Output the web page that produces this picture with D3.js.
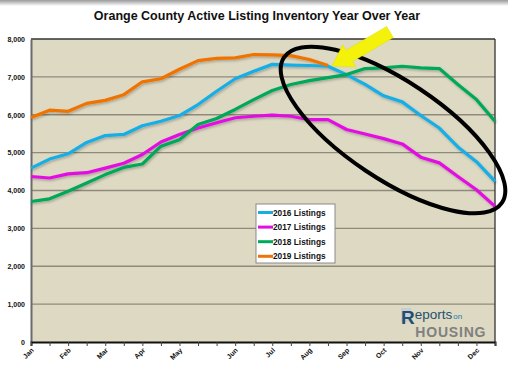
<!DOCTYPE html>
<html>
<head>
<meta charset="utf-8">
<script src="https://cdn.jsdelivr.net/npm/d3@7"></script>
<style>
  body { margin: 0; background: #fff; }
  svg { display: block; font-family: 'Liberation Sans', Arial, sans-serif; }
</style>
</head>
<body>
<svg id="chart" width="508" height="384"></svg>
<script>
// half-month categories, only month starts are labelled
let categories = ['Jan', '', 'Feb', '', 'Mar', '', 'Apr', '', 'May', '', '', 'Jun', '', 'Jul', '',
  'Aug', '', 'Sep', '', 'Oct', '', 'Nov', '', '', 'Dec', '']

let listings2016 = [4590, 4830, 4970, 5270, 5450, 5480, 5710, 5830, 5980, 6270, 6620, 6950, 7150,
  7330, 7310, 7300, 7280, 7060, 6800, 6500, 6340, 5980, 5650, 5150, 4760, 4240]
let listings2017 = [4370, 4330, 4440, 4470, 4590, 4720, 4950, 5280, 5480, 5650, 5790, 5920, 5960,
  5990, 5960, 5870, 5870, 5610, 5490, 5370, 5230, 4880, 4730, 4370, 4020, 3580]
let listings2018 = [3710, 3780, 3980, 4200, 4420, 4610, 4700, 5170, 5340, 5740, 5900, 6140, 6400,
  6640, 6800, 6900, 6980, 7060, 7220, 7240, 7280, 7240, 7220, 6800, 6400, 5830]
let listings2019 = [5930, 6120, 6090, 6300, 6380, 6530, 6870, 6950, 7200, 7430, 7490, 7500, 7590,
  7580, 7560, 7460, 7300]

let seriesNames = ['2016 Listings', '2017 Listings', '2018 Listings', '2019 Listings']
let yTicks = [0, 1000, 2000, 3000, 4000, 5000, 6000, 7000, 8000]

let colors = {
  '2016 Listings': '#17aee6',
  '2017 Listings': '#e30ee3',
  '2018 Listings': '#00a85a',
  '2019 Listings': '#f07306'
}
let series = [
  {name: seriesNames[0], values: listings2016},
  {name: seriesNames[1], values: listings2017},
  {name: seriesNames[2], values: listings2018},
  {name: seriesNames[3], values: listings2019}
]

let svg = d3.select('#chart')
let box = {left: 31, right: 495, top: 39, bottom: 342}

let defs = svg.append('defs')
let grad = defs.append('linearGradient')
  .attr('id', 'topShade')
  .attr('x1', 0).attr('y1', 0).attr('x2', 0).attr('y2', 1)
grad.append('stop').attr('offset', '0%').attr('stop-color', '#9a9a9a')
grad.append('stop').attr('offset', '100%').attr('stop-color', '#ffffff')
let shadow = defs.append('filter').attr('id', 'lineShadow')
  .attr('x', '-5%').attr('y', '-5%').attr('width', '110%').attr('height', '120%')
shadow.append('feDropShadow')
  .attr('dx', 1).attr('dy', 1.5).attr('stdDeviation', 0.8)
  .attr('flood-color', '#000').attr('flood-opacity', 0.25)

svg.append('rect')
  .attr('x', 0).attr('y', 0)
  .attr('width', 508).attr('height', 6)
  .attr('fill', 'url(#topShade)')

svg.append('text')
  .text('Orange County Active Listing Inventory Year Over Year')
  .attr('x', 257)
  .attr('y', 20)
  .attr('text-anchor', 'middle')
  .style('font-weight', 'bold')
  .style('font-size', '12.5px')
  .attr('fill', '#111')

let x = d3.scaleLinear().domain([0, categories.length - 1]).range([box.left, box.right])
let y = d3.scaleLinear().domain([0, 8000]).range([box.bottom, box.top])

svg.append('rect')
  .attr('x', box.left)
  .attr('y', box.top)
  .attr('width', box.right - box.left)
  .attr('height', box.bottom - box.top)
  .attr('fill', '#ddd9c3')

// gridlines
svg.append('g')
  .selectAll('line')
  .data(yTicks.filter(function (d) { return d > 0 && d < 8000 }))
  .enter()
  .append('line')
  .attr('x1', box.left)
  .attr('x2', box.right)
  .attr('y1', function (d) { return y(d) })
  .attr('y2', function (d) { return y(d) })
  .attr('stroke', '#8f8b7c')
  .attr('stroke-width', 1.3)

// frame
svg.append('line')
  .attr('x1', box.left).attr('x2', box.right)
  .attr('y1', box.top).attr('y2', box.top)
  .attr('stroke', '#333').attr('stroke-width', 1.3)
svg.append('line')
  .attr('x1', box.right).attr('x2', box.right)
  .attr('y1', box.top).attr('y2', box.bottom)
  .attr('stroke', '#333').attr('stroke-width', 1.3)

// y axis
let yAxis = svg.append('g')
  .attr('transform', 'translate(' + box.left + ',0)')
  .call(d3.axisLeft(y).tickValues(yTicks).tickSize(0).tickPadding(6).tickFormat(d3.format(',')))
yAxis.select('.domain').attr('stroke', '#6b6b6b').attr('stroke-width', 2)
yAxis.selectAll('text')
  .style('font-size', '7px')
  .style('font-weight', 'bold')
  .style('font-family', "'Liberation Sans', Arial, sans-serif")
  .attr('fill', '#111')

// x axis
let xAxis = svg.append('g')
  .attr('transform', 'translate(0,' + box.bottom + ')')
  .call(d3.axisBottom(x).tickValues(d3.range(categories.length)).tickSize(4).tickPadding(3)
    .tickFormat(function (i) { return categories[i] }))
xAxis.select('.domain').attr('stroke', '#111').attr('stroke-width', 2)
xAxis.selectAll('.tick line').attr('stroke', '#444').attr('stroke-width', 1)
xAxis.selectAll('text')
  .style('font-size', '7px')
  .style('font-weight', 'bold')
  .style('font-family', "'Liberation Sans', Arial, sans-serif")
  .attr('fill', '#111')
  .attr('text-anchor', 'end')
  .attr('x', 0)
  .attr('y', 0)
  .attr('dy', '0.35em')
  .attr('transform', 'translate(1,7) rotate(-45)')

// lines
let line = d3.line()
  .x(function (d, i) { return x(i) })
  .y(function (d) { return y(d) })
svg.append('g')
  .attr('filter', 'url(#lineShadow)')
  .selectAll('path')
  .data(series)
  .enter()
  .append('path')
  .attr('d', function (d) { return line(d.values) })
  .attr('fill', 'none')
  .attr('stroke', function (d) { return colors[d.name] })
  .attr('stroke-width', 3.2)
  .attr('stroke-linejoin', 'round')

// legend
let legend = svg.append('g').attr('transform', 'translate(256,204)')
legend.append('rect')
  .attr('x', 0).attr('y', 0)
  .attr('width', 79).attr('height', 59)
  .attr('fill', '#fff')
  .attr('stroke', '#8a8a8a')
  .attr('stroke-width', 1)
let items = legend.selectAll('g.item')
  .data(seriesNames)
  .enter()
  .append('g')
  .attr('class', 'item')
  .attr('transform', function (d, i) { return 'translate(0,' + (8.5 + i * 14.6) + ')' })
items.append('line')
  .attr('x1', 2).attr('x2', 17)
  .attr('y1', 0).attr('y2', 0)
  .attr('stroke', function (d) { return colors[d] })
  .attr('stroke-width', 3)
items.append('text')
  .text(function (d) { return d })
  .attr('x', 17)
  .attr('y', 3)
  .style('font-size', '8.3px')
  .style('font-weight', 'bold')
  .attr('fill', '#111')

// annotation: ellipse and arrow
svg.append('ellipse')
  .attr('cx', 393).attr('cy', 130)
  .attr('rx', 131).attr('ry', 49)
  .attr('transform', 'rotate(33.7,393,130)')
  .attr('fill', 'none')
  .attr('stroke', '#000')
  .attr('stroke-width', 4)

let tail = [390, 32]
let tip = [332, 66]
let len = Math.hypot(tip[0] - tail[0], tip[1] - tail[1])
let ux = (tip[0] - tail[0]) / len
let uy = (tip[1] - tail[1]) / len
let nx = -uy
let ny = ux
let headLen = 20
let shaftW = 6.5
let headW = 13
let hb = [tip[0] - ux * headLen, tip[1] - uy * headLen]
let arrowPts = [
  [tail[0] + nx * shaftW, tail[1] + ny * shaftW],
  [hb[0] + nx * shaftW, hb[1] + ny * shaftW],
  [hb[0] + nx * headW, hb[1] + ny * headW],
  tip,
  [hb[0] - nx * headW, hb[1] - ny * headW],
  [hb[0] - nx * shaftW, hb[1] - ny * shaftW],
  [tail[0] - nx * shaftW, tail[1] - ny * shaftW]
]
svg.append('polygon')
  .attr('points', arrowPts.map(function (p) { return p.join(',') }).join(' '))
  .attr('fill', '#f4f20a')
  .attr('stroke', '#e0de00')
  .attr('stroke-width', 0.5)

// logo
let logo = svg.append('g').attr('transform', 'translate(400,305)')
logo.append('rect')
  .attr('x', 1).attr('y', 3)
  .attr('width', 10).attr('height', 14)
  .attr('fill', '#c9cdd3')
let rMark = logo.append('text')
  .text('R')
  .attr('x', 1)
  .attr('y', 19)
  .style('font-size', '19px')
  .style('font-weight', 'bold')
  .attr('fill', '#1f4f6e')
let rEnd = 1 + rMark.node().getComputedTextLength()
let eports = logo.append('text')
  .text('eports')
  .attr('x', rEnd)
  .attr('y', 14)
  .style('font-size', '13.5px')
  .attr('fill', '#1f4f6e')
logo.append('text')
  .text('on')
  .attr('x', rEnd + eports.node().getComputedTextLength() + 1)
  .attr('y', 14)
  .style('font-size', '8px')
  .attr('fill', '#1f7fa8')
logo.append('text')
  .text('HOUSING')
  .attr('x', rEnd + 0.5)
  .attr('y', 31.5)
  .style('font-size', '14px')
  .style('font-weight', 'bold')
  .attr('textLength', 85 - rEnd)
  .attr('fill', '#808080')
</script>
</body>
</html>
